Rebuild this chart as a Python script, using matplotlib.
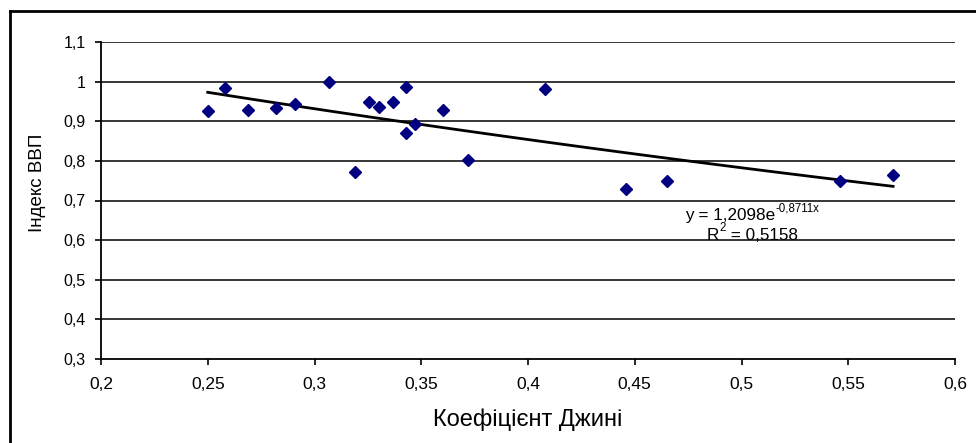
import numpy as np
import matplotlib
matplotlib.use("Agg")
import matplotlib.pyplot as plt
from matplotlib.lines import Line2D

plt.rcParams["font.family"] = ["Liberation Sans", "DejaVu Sans"]

# Коефіцієнт Джині vs Індекс ВВП
gini = [0.250, 0.258, 0.269, 0.282, 0.291, 0.307, 0.319, 0.3255, 0.330, 0.337,
        0.343, 0.343, 0.347, 0.360, 0.372, 0.408, 0.446, 0.465, 0.546, 0.571]
gdp_index = [0.926, 0.984, 0.928, 0.933, 0.943, 1.000, 0.772, 0.948, 0.936, 0.948,
             0.986, 0.870, 0.893, 0.928, 0.802, 0.981, 0.729, 0.749, 0.749, 0.764]

# exponential trend shown on the chart
trend_a = 1.2098
trend_b = -0.8711
r2 = "0,5158"

x_ticks = [0.2, 0.25, 0.3, 0.35, 0.4, 0.45, 0.5, 0.55, 0.6]
y_ticks = [0.3, 0.4, 0.5, 0.6, 0.7, 0.8, 0.9, 1.0, 1.1]


def fmt(v):
    s = f"{v:g}"
    return s.replace(".", ",")


fig = plt.figure(figsize=(9.76, 4.43), dpi=100)
ax = fig.add_axes([101 / 976, 1 - 359 / 443, 854 / 976, 317 / 443])

for yv in y_ticks[1:]:
    ax.axhline(yv, color="black", lw=1.1, zorder=1)

ax.plot(gini, gdp_index, linestyle="none", marker="D", markersize=6.5,
        color="#000080", zorder=3)

xt = np.linspace(min(gini), max(gini), 100)
ax.plot(xt, trend_a * np.exp(trend_b * xt), color="black", lw=2, zorder=2)

ax.set_xlim(0.2, 0.6)
ax.set_ylim(0.3, 1.1)
ax.set_xticks(x_ticks)
ax.set_yticks(y_ticks)
ax.set_xticklabels([fmt(v) for v in x_ticks])
ax.set_yticklabels([fmt(v) for v in y_ticks])
ax.tick_params(direction="out", length=4, width=1.2, color="black")
ax.tick_params(axis="x", pad=9, labelsize=12.5)
ax.tick_params(axis="y", pad=7, labelsize=11.5)
for side in ["top", "right"]:
    ax.spines[side].set_visible(False)
for side in ["left", "bottom"]:
    ax.spines[side].set_linewidth(1.3)

ax.set_xlabel("Коефіцієнт Джині", fontsize=17)
ax.xaxis.set_label_coords(0.5, -0.155)
ax.set_ylabel("Індекс ВВП", fontsize=13.5)
ax.yaxis.set_label_coords(-0.064, 0.555)

# trend equation, written the way the spreadsheet shows it
base = ax.text(0.4735, 0.663, f"y = {fmt(trend_a)}e", fontsize=12.3,
               ha="left", va="center", zorder=4)
ax.annotate("-" + fmt(abs(trend_b)) + "x", xy=(1.0, 0.95), xycoords=base,
            ha="left", va="center", fontsize=8.3, zorder=4)
r_txt = ax.text(0.4838, 0.6126, "R", fontsize=12.3, ha="left", va="center", zorder=4)
sup2 = ax.annotate("2", xy=(1.0, 0.95), xycoords=r_txt,
                   ha="left", va="center", fontsize=8.3, zorder=4)
ax.annotate(f" = {r2}", xy=(1.0, 0.5), xycoords=(sup2, r_txt),
            ha="left", va="center", fontsize=12.3, zorder=4)

# outer chart frame
fig.add_artist(Line2D([9.5 / 976, 1], [1 - 10.5 / 443, 1 - 10.5 / 443],
                      transform=fig.transFigure, color="black", lw=2))
fig.add_artist(Line2D([9.5 / 976, 9.5 / 976], [0, 1 - 10.5 / 443],
                      transform=fig.transFigure, color="black", lw=2))

fig.savefig("out.png", dpi=100)
